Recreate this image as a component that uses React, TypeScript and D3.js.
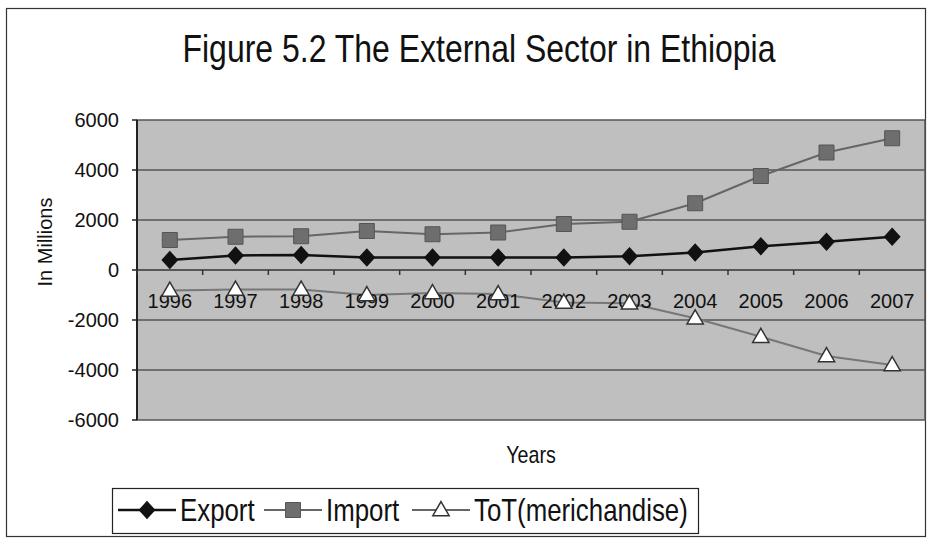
import React from "react";
import * as d3 from "d3";

const years = ["1996", "1997", "1998", "1999", "2000", "2001", "2002", "2003", "2004", "2005", "2006", "2007"];
const exportVals = [400, 580, 600, 500, 500, 500, 500, 550, 700, 950, 1130, 1330];
const importVals = [1200, 1330, 1350, 1560, 1430, 1500, 1840, 1930, 2670, 3760, 4700, 5270];
const totVals = [-820, -780, -780, -1000, -920, -960, -1300, -1330, -1930, -2670, -3440, -3800];
const yTicks = [-6000, -4000, -2000, 0, 2000, 4000, 6000];
const seriesNames = ["Export", "Import", "ToT(merichandise)"];

const W = 934;
const H = 540;
const plot = { left: 137, top: 120, right: 925, bottom: 420 };
const font = "'Liberation Sans', Arial, sans-serif";
// title, axis title and legend use a condensed face
const narrow = 0.82;

const App = () => {
  const x = d3.scaleBand().domain(years).range([plot.left, plot.right]);
  const y = d3.scaleLinear().domain([-6000, 6000]).range([plot.bottom, plot.top]);
  const cx = (yr: string) => (x(yr) ?? 0) + x.bandwidth() / 2;

  const line = d3.line<number>().x((_, i) => cx(years[i])).y(d => y(d));

  // diamond = square turned 45deg, a bit taller than wide
  const diamond = d3.symbol(d3.symbolSquare, 120)();
  const square = d3.symbol(d3.symbolSquare, 225)();
  const triangle = d3.symbol(d3.symbolTriangle, 115)();

  const legendY = 510;
  const legendItems = [
    { name: seriesNames[0], x0: 118, kind: "export" },
    { name: seriesNames[1], x0: 264, kind: "import" },
    { name: seriesNames[2], x0: 412, kind: "tot" },
  ];

  const marker = (kind: string, tx: number, ty: number, key: string | number) => {
    if (kind === "export")
      return <path key={key} d={diamond} transform={`translate(${tx},${ty}) scale(1,1.1) rotate(45)`} fill="#111" stroke="#111" strokeWidth={1} />;
    if (kind === "import")
      return <path key={key} d={square} transform={`translate(${tx},${ty})`} fill="#6e6e6e" stroke="#555" strokeWidth={1} />;
    return <path key={key} d={triangle} transform={`translate(${tx},${ty + 1})`} fill="#fff" stroke="#333" strokeWidth={1.5} />;
  };

  return (
    <svg width={W} height={H} style={{ position: "absolute", left: 0, top: 0, background: "#fff" }} fontFamily={font}>
      <rect x={6.5} y={8.5} width={919} height={528} fill="none" stroke="#333" strokeWidth={1.2} />
      <text transform={`translate(479,62) scale(${narrow},1)`} textAnchor="middle" fontSize={39} fill="#111">
        Figure 5.2 The External Sector in Ethiopia
      </text>

      {/* plot area */}
      <rect x={plot.left} y={plot.top} width={plot.right - plot.left} height={plot.bottom - plot.top} fill="#bfbfbf" stroke="#555" strokeWidth={1.5} />
      {yTicks.filter(t => t !== 0 && Math.abs(t) !== 6000).map(t => (
        <line key={t} x1={plot.left} x2={plot.right} y1={y(t)} y2={y(t)} stroke="#555" strokeWidth={1.5} />
      ))}

      {/* y axis */}
      <line x1={plot.left} x2={plot.left} y1={plot.top} y2={plot.bottom} stroke="#222" strokeWidth={2} />
      {yTicks.map(t => (
        <g key={t} transform={`translate(${plot.left},${y(t)})`}>
          <line x1={-5} x2={0} stroke="#222" strokeWidth={1.5} />
          <text x={-18} dy="0.35em" textAnchor="end" fontSize={20} fill="#111">{t}</text>
        </g>
      ))}
      <text transform={`translate(52,242) rotate(-90)`} textAnchor="middle" fontSize={20} fill="#111">In Millions</text>

      {/* x axis at zero */}
      <line x1={plot.left} x2={plot.right} y1={y(0)} y2={y(0)} stroke="#333" strokeWidth={1.5} />
      {years.map(yr => (
        <line key={yr} x1={x(yr)} x2={x(yr)} y1={y(0)} y2={y(0) + 5} stroke="#333" strokeWidth={1.5} />
      ))}

      {/* series */}
      <path d={line(totVals) ?? ""} fill="none" stroke="#777" strokeWidth={2} />
      <path d={line(importVals) ?? ""} fill="none" stroke="#666" strokeWidth={2} />
      <path d={line(exportVals) ?? ""} fill="none" stroke="#111" strokeWidth={2.5} />

      {years.map(yr => (
        <text key={yr} x={cx(yr)} y={y(0) + 38} textAnchor="middle" fontSize={20} fill="#111">{yr}</text>
      ))}

      {totVals.map((v, i) => marker("tot", cx(years[i]), y(v), "t" + i))}
      {importVals.map((v, i) => marker("import", cx(years[i]), y(v), "i" + i))}
      {exportVals.map((v, i) => marker("export", cx(years[i]), y(v), "e" + i))}

      <text transform={`translate(531,463) scale(${narrow},1)`} textAnchor="middle" fontSize={24} fill="#111">Years</text>

      {/* legend */}
      <rect x={112.5} y={488.5} width={586} height={45} fill="#fff" stroke="#222" strokeWidth={1.2} />
      {legendItems.map(it => (
        <g key={it.name}>
          <line x1={it.x0} x2={it.x0 + 58} y1={legendY} y2={legendY}
            stroke={it.kind === "export" ? "#111" : "#666"} strokeWidth={it.kind === "export" ? 2.5 : 2} />
          {marker(it.kind, it.x0 + 29, legendY, it.name + "m")}
          <text transform={`translate(${it.x0 + 62},${legendY + 11}) scale(${narrow},1)`} fontSize={31.5} fill="#111">{it.name}</text>
        </g>
      ))}
    </svg>
  );
};

export default App;
